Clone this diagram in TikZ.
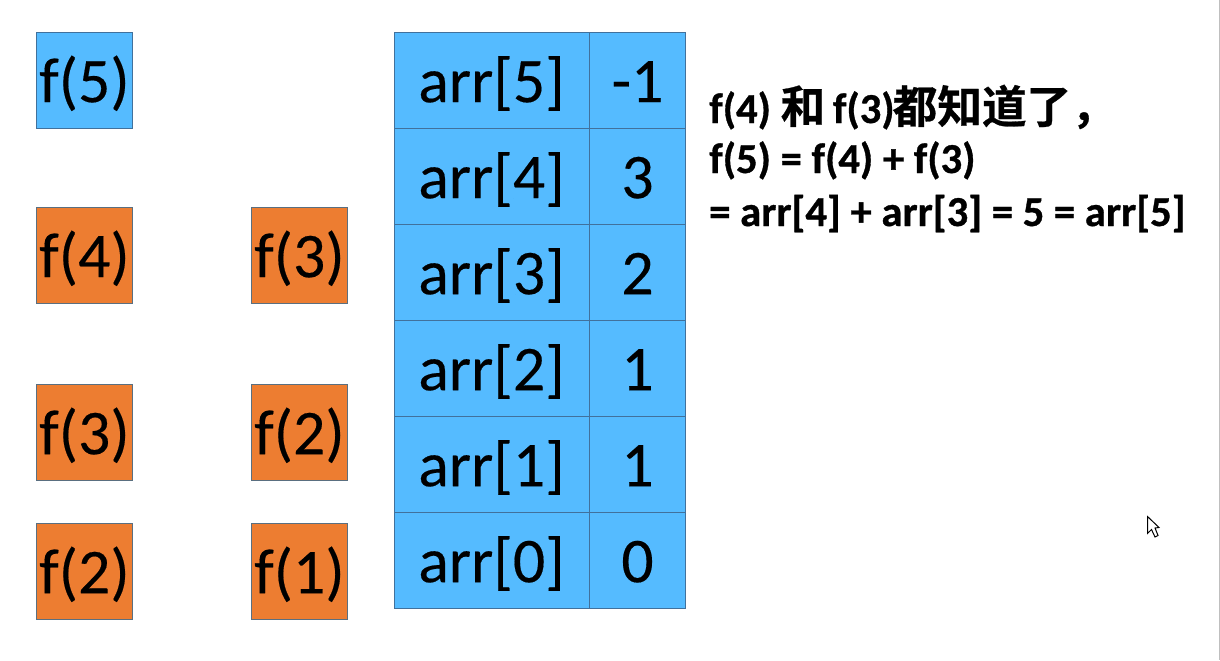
\documentclass[tikz,border=0pt]{standalone}
\usepackage{fontspec}
\setmainfont[FakeBold=0.25]{Carlito}
\newfontfamily\cjk[FakeBold=0.6]{Noto Sans CJK SC Bold}
\newfontfamily\notefont[FakeBold=0.8]{Carlito Bold}
\definecolor{cellblue}{HTML}{55BBFF}
\definecolor{cellorange}{HTML}{ED7D31}
\definecolor{edgeblue}{HTML}{41719C}
\definecolor{edgegray}{HTML}{5A6F80}
\tikzset{
  px/.style={x=0.75pt,y=-0.75pt},
  cell/.style={draw=edgeblue,line width=0.6pt,fill=cellblue,inner sep=0pt,outer sep=0pt,text=black,font=\fontsize{47.8}{56}\selectfont,minimum height=72pt,text height=36pt,text depth=3.5pt},
  fbox/.style={cell,minimum width=72pt},
  fblue/.style={fbox},
  forange/.style={fbox,fill=cellorange,draw=edgegray},
  keycell/.style={cell,minimum width=146.25pt},
  valcell/.style={cell,minimum width=72pt},
  note/.style={anchor=base west,inner sep=0pt,font=\fontsize{32}{38}\notefont,text=black}
}
\newcommand{\cjktext}[1]{{\fontsize{33.5}{38}\cjk #1}}
\begin{document}
\begin{tikzpicture}[px]
\useasboundingbox (0,0) rectangle (1220,660);
\node[fblue] (f5) at (84.5,80.5) {f(5)};
\node[forange] (f4) at (84.5,255.5) {f(4)};
\node[forange] (f3a) at (84.5,432.5) {f(3)};
\node[forange] (f2a) at (84.5,571.5) {f(2)};
\node[forange] (f3b) at (299.5,255.5) {f(3)};
\node[forange] (f2b) at (299.5,432.5) {f(2)};
\node[forange] (f1) at (299.5,571.5) {f(1)};
\foreach \n/\y/\v in {5/80.5/-1,4/176.5/3,3/272.5/2,2/368.5/1,1/464.5/1,0/560.5/0}{
  \node[keycell] (k\n) at (491.5,\y) {arr[\n]};
  \node[valcell] (v\n) at (637.5,\y) {\v};
}
\node[note] (t1) at (709,123) {f(4) \cjktext{和}\hspace{-1.5pt} f(3)\hspace{-1.5pt}\cjktext{都知道了，}};
\node[note] (t2) at (709,173) {f(5) = f(4) + f(3)};
\node[note] (t3) at (709,226) {= arr[4] + arr[3] = 5 = arr[5]};
\draw[line width=0.75pt,fill=white,line join=miter] (1147.5,516.5) -- (1147.5,533.5) -- (1151.5,529.5) -- (1155,537) -- (1158,535.5) -- (1155,528) -- (1159,527.5) -- cycle;
\draw[draw=black!25,line width=0.75pt] (1219.5,0) -- (1219.5,660);
\end{tikzpicture}
\end{document}
